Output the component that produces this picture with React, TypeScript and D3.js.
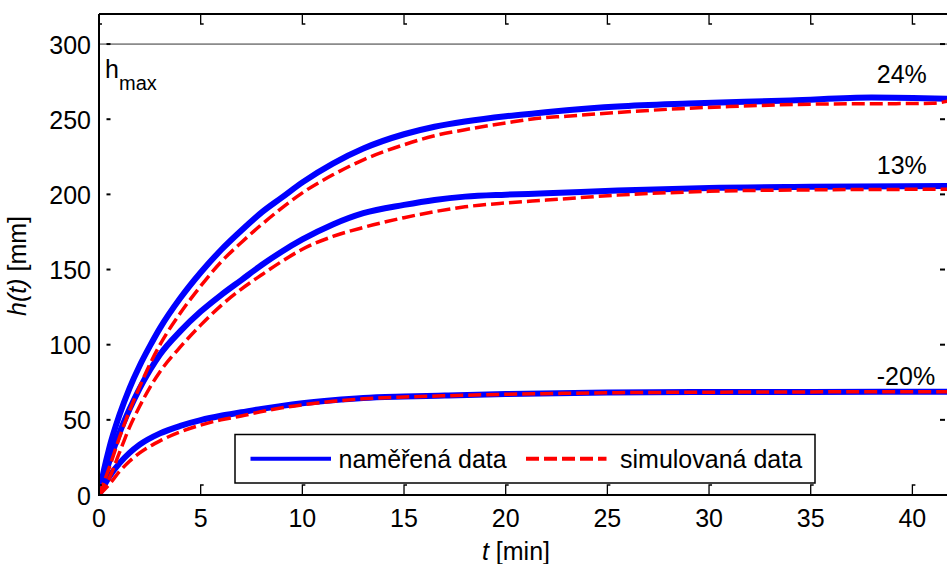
import React from 'react';
import * as d3 from 'd3';

// Tank level h(t) for three inflow settings: measured vs. simulated
const W = 947;
const H = 564;

const xTicks = [0, 5, 10, 15, 20, 25, 30, 35, 40];
const yTicks = [0, 50, 100, 150, 200, 250, 300];
const hMax = 300;

// +24 %
const tMeas24 = [0, 0.25, 0.5, 1, 1.5, 2, 2.5, 3, 4, 5, 6, 7, 8, 9, 10, 11.5, 13, 15, 16.5, 18, 20, 21.5, 23, 25.5, 29, 34, 38, 41.9];
const hMeas24 = [0, 17, 31, 53, 71, 86, 99, 111, 131, 148, 163, 176, 188, 198, 208, 220.5, 230.5, 240, 245, 248.5, 252, 254, 256, 258.5, 260.5, 262.5, 264.5, 263.5];
const tSim24 = [0, 0.5, 1, 1.5, 2, 2.5, 3, 4, 5, 6, 7, 8, 9, 10, 11.5, 13, 15, 16.5, 18, 20, 21.5, 23, 25.5, 29, 31, 35, 41, 41.9];
const hSim24 = [0, 18, 38, 56, 72, 87, 100, 121, 139, 155, 168, 180, 191, 201, 213, 223, 233, 239, 243, 247.5, 250.5, 252, 254.5, 257.3, 258.4, 260, 260.6, 262.5];

// +13 %
const t13 = [0, 0.5, 1, 1.5, 2, 2.5, 3, 4, 5, 6, 7, 8, 9, 10, 11.5, 13, 15, 16.5, 18, 20, 22, 25.5, 30, 35, 41.9];
const hMeas13 = [0, 22, 41, 57, 71, 83, 93.5, 109, 122, 133, 143, 153, 162, 170, 180, 187.5, 193, 196.3, 198.5, 199.8, 200.7, 202.5, 204.3, 205, 205.5];
const hSim13 = [0, 11, 28, 45, 59, 71.5, 82, 98.5, 113, 126, 137, 146.5, 155.5, 163.5, 172, 178, 184.5, 188.5, 191.7, 194.3, 196.2, 199.5, 202, 203, 203.4];

// -20 %
const tM20 = [0, 0.5, 1, 1.5, 2, 3, 4, 5, 6, 7, 8, 9, 10, 11.5, 13, 15, 17, 20, 25, 30, 35, 41.9];
const hMeasM20 = [0, 12, 21, 28, 33.5, 41, 46, 49.8, 52.7, 55, 57.3, 59.3, 61, 63, 64.5, 65.5, 66.2, 67.2, 68.2, 68.5, 68.6, 68.7];
const hSimM20 = [0, 7, 15.5, 22.5, 28, 36, 42, 46.5, 50, 52.5, 55.5, 58, 60, 62.3, 64, 65.2, 66, 67, 68, 68.4, 68.6, 68.7];

const curveLabels = ['24%', '13%', '-20%'];
const curveLabelT = 38.25;
const curveLabelH = [274, 213.5, 73];

const legendLabels = ['naměřená data', 'simulovaná data'];

const FONT = '"Liberation Sans", Arial, Helvetica, sans-serif';
const BLUE = '#0000ff';
const RED = '#ff0000';
const DASH = '13,5';

export default function App() {
  const left = 99;
  const right = 950;
  const top = 14;
  const bottom = 495;

  const x = d3.scaleLinear().domain([0, 41.85]).range([left, right]);
  const y = d3.scaleLinear().domain([0, 320]).range([bottom, top]);

  const line = d3
    .line<[number, number]>()
    .x((d) => x(d[0]))
    .y((d) => y(d[1]))
    .curve(d3.curveMonotoneX);

  const zip = (t: number[], h: number[]) => t.map((v, i) => [v, h[i]] as [number, number]);

  const measured = [zip(tMeas24, hMeas24), zip(t13, hMeas13), zip(tM20, hMeasM20)];
  const simulated = [zip(tSim24, hSim24), zip(t13, hSim13), zip(tM20, hSimM20)];

  const legend = { x0: 235, x1: 815, y0: 434.5, y1: 483 };
  const legendMid = (legend.y0 + legend.y1) / 2;

  return (
    <div style={{ position: 'absolute', left: 0, top: 0 }}>
      <svg width={W} height={H} style={{ display: 'block' }} fontFamily={FONT}>
        <rect x={0} y={0} width={W} height={H} fill="#fff" />
        <defs>
          <clipPath id="plotArea">
            <rect x={left} y={top} width={right - left} height={bottom - top} />
          </clipPath>
        </defs>

        {/* h_max reference line */}
        <line x1={left} x2={right} y1={y(hMax)} y2={y(hMax)} stroke="#333" strokeWidth={1} />

        <g clipPath="url(#plotArea)">
          {measured.map((d, i) => (
            <path key={`m${i}`} d={line(d) || ''} fill="none" stroke={BLUE} strokeWidth={6} strokeLinejoin="round" />
          ))}
          {simulated.map((d, i) => (
            <path key={`s${i}`} d={line(d) || ''} fill="none" stroke={RED} strokeWidth={3.5} strokeDasharray={DASH} />
          ))}
        </g>

        {/* axes frame */}
        <line x1={left} x2={left} y1={top} y2={bottom + 1} stroke="#000" strokeWidth={2} />
        <line x1={left} x2={W} y1={top} y2={top} stroke="#000" strokeWidth={2} />
        <line x1={left} x2={W} y1={bottom} y2={bottom} stroke="#000" strokeWidth={2} />

        {/* x ticks, bottom and top */}
        {xTicks.map((t) => (
          <g key={`xt${t}`} stroke="#000" strokeWidth={1.3} fill="none">
            <path d={`M${x(t)},${bottom} V${bottom - 10} h3`} />
            <path d={`M${x(t)},${top} V${top + 10} h3`} />
          </g>
        ))}
        {/* y ticks, left and right */}
        {yTicks.map((v) => (
          <g key={`yt${v}`} stroke="#000" strokeWidth={2}>
            <line x1={left + 7.5} x2={left + 11.5} y1={y(v)} y2={y(v)} />
            <line x1={940} x2={945} y1={y(v)} y2={y(v)} />
          </g>
        ))}

        {/* tick labels */}
        {xTicks.map((t) => (
          <text key={`xl${t}`} x={x(t)} y={527} fontSize={25} textAnchor="middle" fill="#000">
            {t}
          </text>
        ))}
        {yTicks.map((v) => (
          <text key={`yl${v}`} x={91} y={y(v) + 9.5} fontSize={25} textAnchor="end" fill="#000">
            {v}
          </text>
        ))}

        {/* axis titles */}
        <text x={516} y={560} fontSize={25} textAnchor="middle" fill="#000">
          <tspan fontStyle="italic">t</tspan> [min]
        </text>
        <text transform={`translate(25.5,266) rotate(-90)`} fontSize={25} textAnchor="middle" fill="#000">
          <tspan fontStyle="italic">h(t)</tspan> [mm]
        </text>

        {/* h_max label */}
        <text x={x(0.3)} y={y(277.5)} fontSize={25} fill="#000">
          h
          <tspan fontSize={20} dy={12}>max</tspan>
        </text>

        {/* curve labels */}
        {curveLabels.map((s, i) => (
          <text key={s} x={x(curveLabelT)} y={y(curveLabelH[i])} fontSize={25} fill="#000">
            {s}
          </text>
        ))}

        {/* legend */}
        <rect
          x={legend.x0}
          y={legend.y0}
          width={legend.x1 - legend.x0}
          height={legend.y1 - legend.y0}
          fill="#fff"
          stroke="#000"
          strokeWidth={1.5}
        />
        <line x1={250.5} x2={331} y1={legendMid} y2={legendMid} stroke={BLUE} strokeWidth={4} />
        <text x={338.5} y={legendMid + 9} fontSize={25} fill="#000">
          {legendLabels[0]}
        </text>
        <line x1={526} x2={606.5} y1={legendMid} y2={legendMid} stroke={RED} strokeWidth={4} strokeDasharray={DASH} />
        <text x={620} y={legendMid + 9} fontSize={25} fill="#000">
          {legendLabels[1]}
        </text>
      </svg>
    </div>
  );
}
